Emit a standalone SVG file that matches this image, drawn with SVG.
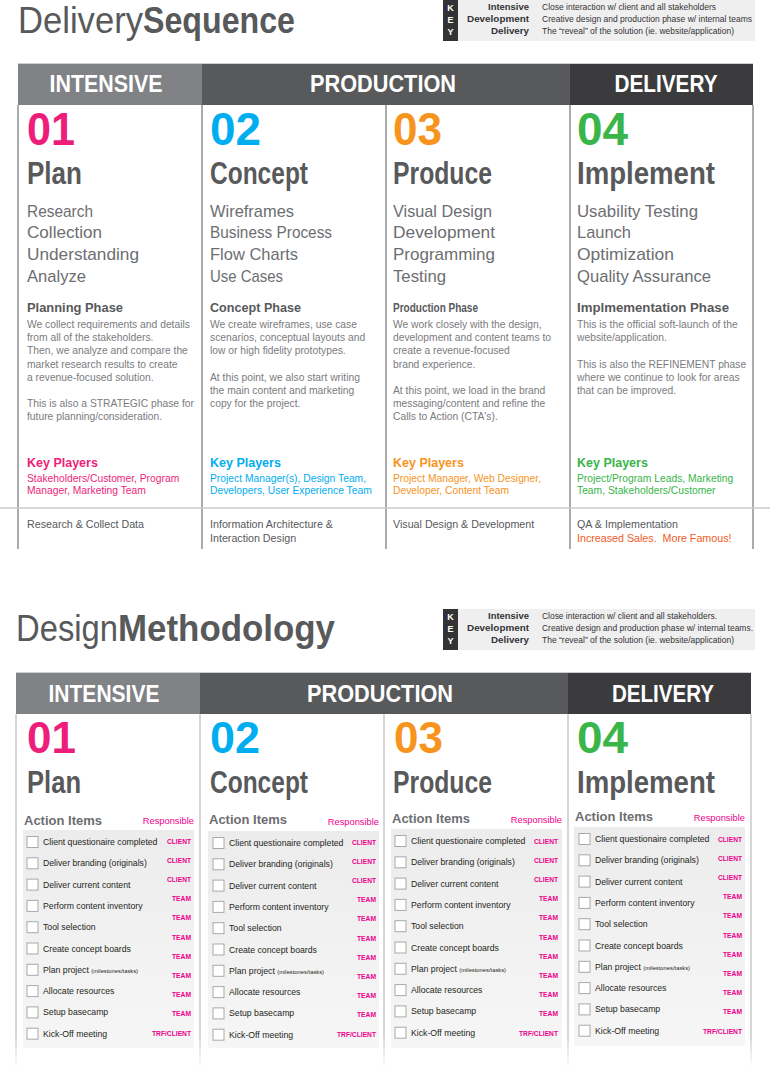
<svg xmlns="http://www.w3.org/2000/svg" width="770" height="1070" viewBox="0 0 770 1070">
  <style>
    text { font-family: "Liberation Sans", Arial, sans-serif; }
    .title { font-size: 36px; fill: #58595b; }
    .title-b { font-size: 36px; font-weight: bold; fill: #58595b; }
    .key-bg { fill: #efeff0; }
    .key-strip { fill: #333335; }
    .key-letter { font-size: 9px; font-weight: bold; fill: #ffffff; text-anchor: middle; }
    .key-label { font-size: 9px; font-weight: bold; fill: #333335; text-anchor: end; }
    .key-desc { font-size: 8.6px; fill: #333335; }
    .bar-line { stroke: #cfcfcf; stroke-width: 1; }
    .hdr { font-size: 23px; font-weight: bold; fill: #ffffff; text-anchor: middle; }
    .num { font-size: 46px; font-weight: bold; }
    .num2 { font-size: 44px; font-weight: bold; }
    .stage { font-size: 31px; font-weight: bold; fill: #58595b; }
    .stage2 { font-size: 32px; font-weight: bold; fill: #58595b; }
    .task { font-size: 17px; fill: #6d6e71; }
    .phase { font-size: 13px; font-weight: bold; fill: #58595b; }
    .body { font-size: 10.3px; fill: #7a7b7e; }
    .kp { font-size: 12.5px; font-weight: bold; }
    .kp-list { font-size: 10.3px; }
    .outcome { font-size: 10.7px; fill: #58595b; }
    .col-line { stroke: #8e8f92; stroke-width: 1.5; }
    .col-line2 { stroke: url(#fadeLine); stroke-width: 1.5; }
    .sep { stroke: #cbcbcb; stroke-width: 1.5; }
    .ai { font-size: 13px; font-weight: bold; fill: #6d6e71; }
    .resp { font-size: 9.3px; fill: #ec008c; text-anchor: end; }
    .panel { fill: url(#panelGrad); }
    .box { fill: #ffffff; stroke: #a7a9ac; stroke-width: 1; }
    .item { font-size: 8.7px; fill: #231f20; }
    .tiny { font-size: 5.8px; }
    .who { font-size: 7.2px; font-weight: bold; fill: #ec008c; text-anchor: end; }
    .pink { fill: #ed1e79; }
    .cyan { fill: #00aeef; }
    .orange { fill: #f7941d; }
    .green { fill: #39b54a; }
  </style>
  <defs>
    <linearGradient id="fadeLine" gradientUnits="userSpaceOnUse" x1="0" y1="1035" x2="0" y2="1068">
      <stop offset="0" stop-color="#c8c8c8" stop-opacity="1"/>
      <stop offset="1" stop-color="#c8c8c8" stop-opacity="0"/>
    </linearGradient>
    <linearGradient id="panelGrad" x1="0" y1="0" x2="0" y2="1">
      <stop offset="0" stop-color="#ececec"/>
      <stop offset="1" stop-color="#f6f6f6"/>
    </linearGradient>
  </defs>

  <!-- ===================== Delivery Sequence ===================== -->
  <g id="seq-title">
    <text class="title" x="18" y="33" textLength="125" lengthAdjust="spacingAndGlyphs">Delivery</text>
    <text class="title-b" x="143" y="33" textLength="152" lengthAdjust="spacingAndGlyphs">Sequence</text>
  </g>

  <g id="seq-key">
    <rect class="key-bg" x="443" y="0" width="312" height="41"/>
    <rect class="key-strip" x="443" y="0" width="15" height="41"/>
    <text class="key-letter" x="450.5" y="10.5">K</text>
    <text class="key-letter" x="450.5" y="22.5">E</text>
    <text class="key-letter" x="450.5" y="34.5">Y</text>
    <text class="key-label" x="529" y="10" textLength="41" lengthAdjust="spacingAndGlyphs">Intensive</text>
    <text class="key-label" x="529" y="22" textLength="62" lengthAdjust="spacingAndGlyphs">Development</text>
    <text class="key-label" x="529" y="34" textLength="38" lengthAdjust="spacingAndGlyphs">Delivery</text>
    <text class="key-desc" x="542" y="10" textLength="174" lengthAdjust="spacingAndGlyphs">Close interaction w/ client and all stakeholders</text>
    <text class="key-desc" x="542" y="22" textLength="210" lengthAdjust="spacingAndGlyphs">Creative design and production phase w/ internal teams</text>
    <text class="key-desc" x="542" y="34" textLength="192" lengthAdjust="spacingAndGlyphs">The “reveal” of the solution (ie. website/application)</text>
  </g>

  <g id="seq-header">
    <line class="bar-line" x1="18" y1="63.5" x2="753" y2="63.5"/>
    <rect x="18" y="64" width="184" height="41" fill="#808285"/>
    <rect x="202" y="64" width="368" height="41" fill="#58595b"/>
    <rect x="570" y="64" width="183" height="41" fill="#3b3b3d"/>
    <text class="hdr" x="106" y="92" textLength="113" lengthAdjust="spacingAndGlyphs">INTENSIVE</text>
    <text class="hdr" x="383" y="92" textLength="146" lengthAdjust="spacingAndGlyphs">PRODUCTION</text>
    <text class="hdr" x="666" y="92" textLength="103" lengthAdjust="spacingAndGlyphs">DELIVERY</text>
  </g>

  <g id="seq-grid">
    <line class="col-line" x1="18" y1="105" x2="18" y2="549"/>
    <line class="col-line" x1="202" y1="105" x2="202" y2="549"/>
    <line class="col-line" x1="386" y1="105" x2="386" y2="549"/>
    <line class="col-line" x1="570" y1="105" x2="570" y2="549"/>
    <line class="col-line" x1="753" y1="105" x2="753" y2="549"/>
    <line class="sep" x1="0" y1="508" x2="770" y2="508"/>
  </g>

  <g id="seq-plan">
    <text class="num pink" x="27" y="145" textLength="48" lengthAdjust="spacingAndGlyphs">01</text>
    <text class="stage" x="27" y="184" textLength="55" lengthAdjust="spacingAndGlyphs">Plan</text>
    <text class="task" x="27" y="217" textLength="66" lengthAdjust="spacingAndGlyphs">Research</text>
    <text class="task" x="27" y="238" textLength="75" lengthAdjust="spacingAndGlyphs">Collection</text>
    <text class="task" x="27" y="260" textLength="112" lengthAdjust="spacingAndGlyphs">Understanding</text>
    <text class="task" x="27" y="282" textLength="59" lengthAdjust="spacingAndGlyphs">Analyze</text>
    <text class="phase" x="27" y="312" textLength="96" lengthAdjust="spacingAndGlyphs">Planning Phase</text>
    <text class="body" x="27" y="328">We collect requirements and details</text>
    <text class="body" x="27" y="341">from all of the stakeholders.</text>
    <text class="body" x="27" y="354">Then, we analyze and compare the</text>
    <text class="body" x="27" y="368">market research results to create</text>
    <text class="body" x="27" y="381">a revenue-focused solution.</text>
    <text class="body" x="27" y="407">This is also a STRATEGIC phase for</text>
    <text class="body" x="27" y="420">future planning/consideration.</text>
    <text class="kp pink" x="27" y="467">Key Players</text>
    <text class="kp-list pink" x="27" y="482">Stakeholders/Customer, Program</text>
    <text class="kp-list pink" x="27" y="494">Manager, Marketing Team</text>
    <text class="outcome" x="27" y="528">Research &amp; Collect Data</text>
  </g>

  <g id="seq-concept">
    <text class="num cyan" x="210" y="145" textLength="51" lengthAdjust="spacingAndGlyphs">02</text>
    <text class="stage" x="210" y="184" textLength="98" lengthAdjust="spacingAndGlyphs">Concept</text>
    <text class="task" x="210" y="217" textLength="84" lengthAdjust="spacingAndGlyphs">Wireframes</text>
    <text class="task" x="210" y="238" textLength="122" lengthAdjust="spacingAndGlyphs">Business Process</text>
    <text class="task" x="210" y="260" textLength="88" lengthAdjust="spacingAndGlyphs">Flow Charts</text>
    <text class="task" x="210" y="282" textLength="73" lengthAdjust="spacingAndGlyphs">Use Cases</text>
    <text class="phase" x="210" y="312" textLength="91" lengthAdjust="spacingAndGlyphs">Concept Phase</text>
    <text class="body" x="210" y="328">We create wireframes, use case</text>
    <text class="body" x="210" y="341">scenarios, conceptual layouts and</text>
    <text class="body" x="210" y="354">low or high fidelity prototypes.</text>
    <text class="body" x="210" y="381">At this point, we also start writing</text>
    <text class="body" x="210" y="394">the main content and marketing</text>
    <text class="body" x="210" y="407">copy for the project.</text>
    <text class="kp cyan" x="210" y="467">Key Players</text>
    <text class="kp-list cyan" x="210" y="482">Project Manager(s), Design Team,</text>
    <text class="kp-list cyan" x="210" y="494">Developers, User Experience Team</text>
    <text class="outcome" x="210" y="528">Information Architecture &amp;</text>
    <text class="outcome" x="210" y="542">Interaction Design</text>
  </g>

  <g id="seq-produce">
    <text class="num orange" x="393" y="145" textLength="49" lengthAdjust="spacingAndGlyphs">03</text>
    <text class="stage" x="393" y="184" textLength="99" lengthAdjust="spacingAndGlyphs">Produce</text>
    <text class="task" x="393" y="217" textLength="99" lengthAdjust="spacingAndGlyphs">Visual Design</text>
    <text class="task" x="393" y="238" textLength="102" lengthAdjust="spacingAndGlyphs">Development</text>
    <text class="task" x="393" y="260" textLength="102" lengthAdjust="spacingAndGlyphs">Programming</text>
    <text class="task" x="393" y="282" textLength="53" lengthAdjust="spacingAndGlyphs">Testing</text>
    <text class="phase" x="393" y="312" textLength="85" lengthAdjust="spacingAndGlyphs">Production Phase</text>
    <text class="body" x="393" y="328">We work closely with the design,</text>
    <text class="body" x="393" y="341">development and content teams to</text>
    <text class="body" x="393" y="354">create a revenue-focused</text>
    <text class="body" x="393" y="368">brand experience.</text>
    <text class="body" x="393" y="394">At this point, we load in the brand</text>
    <text class="body" x="393" y="407">messaging/content and refine the</text>
    <text class="body" x="393" y="420">Calls to Action (CTA's).</text>
    <text class="kp orange" x="393" y="467">Key Players</text>
    <text class="kp-list orange" x="393" y="482">Project Manager, Web Designer,</text>
    <text class="kp-list orange" x="393" y="494">Developer, Content Team</text>
    <text class="outcome" x="393" y="528">Visual Design &amp; Development</text>
  </g>

  <g id="seq-implement">
    <text class="num green" x="577" y="145" textLength="51" lengthAdjust="spacingAndGlyphs">04</text>
    <text class="stage" x="577" y="184" textLength="138" lengthAdjust="spacingAndGlyphs">Implement</text>
    <text class="task" x="577" y="217" textLength="121" lengthAdjust="spacingAndGlyphs">Usability Testing</text>
    <text class="task" x="577" y="238" textLength="54" lengthAdjust="spacingAndGlyphs">Launch</text>
    <text class="task" x="577" y="260" textLength="97" lengthAdjust="spacingAndGlyphs">Optimization</text>
    <text class="task" x="577" y="282" textLength="134" lengthAdjust="spacingAndGlyphs">Quality Assurance</text>
    <text class="phase" x="577" y="312" textLength="152" lengthAdjust="spacingAndGlyphs">Implmementation Phase</text>
    <text class="body" x="577" y="328">This is the official soft-launch of the</text>
    <text class="body" x="577" y="341">website/application.</text>
    <text class="body" x="577" y="368">This is also the REFINEMENT phase</text>
    <text class="body" x="577" y="381">where we continue to look for areas</text>
    <text class="body" x="577" y="394">that can be improved.</text>
    <text class="kp green" x="577" y="467">Key Players</text>
    <text class="kp-list green" x="577" y="482">Project/Program Leads, Marketing</text>
    <text class="kp-list green" x="577" y="494">Team, Stakeholders/Customer</text>
    <text class="outcome" x="577" y="528">QA &amp; Implementation</text>
    <text class="outcome" x="577" y="542" fill="#f15a24" style="fill:#f15a24" xml:space="preserve">Increased Sales.  More Famous!</text>
  </g>

  <!-- ===================== Design Methodology ===================== -->
  <g id="method-title">
    <text class="title" x="16" y="641" textLength="102" lengthAdjust="spacingAndGlyphs">Design</text>
    <text class="title-b" x="118" y="641" textLength="217" lengthAdjust="spacingAndGlyphs">Methodology</text>
  </g>

  <g id="method-key">
    <rect class="key-bg" x="443" y="609" width="312" height="41"/>
    <rect class="key-strip" x="443" y="609" width="15" height="41"/>
    <text class="key-letter" x="450.5" y="619.5">K</text>
    <text class="key-letter" x="450.5" y="631.5">E</text>
    <text class="key-letter" x="450.5" y="643.5">Y</text>
    <text class="key-label" x="529" y="619" textLength="41" lengthAdjust="spacingAndGlyphs">Intensive</text>
    <text class="key-label" x="529" y="631" textLength="62" lengthAdjust="spacingAndGlyphs">Development</text>
    <text class="key-label" x="529" y="643" textLength="38" lengthAdjust="spacingAndGlyphs">Delivery</text>
    <text class="key-desc" x="542" y="619" textLength="175" lengthAdjust="spacingAndGlyphs">Close interaction w/ client and all stakeholders.</text>
    <text class="key-desc" x="542" y="631" textLength="211" lengthAdjust="spacingAndGlyphs">Creative design and production phase w/ internal teams.</text>
    <text class="key-desc" x="542" y="643" textLength="192" lengthAdjust="spacingAndGlyphs">The “reveal” of the solution (ie. website/application)</text>
  </g>

  <g id="method-header">
    <line class="bar-line" x1="16" y1="672.5" x2="751" y2="672.5"/>
    <rect x="16" y="673" width="184" height="41" fill="#808285"/>
    <rect x="200" y="673" width="368" height="41" fill="#58595b"/>
    <rect x="568" y="673" width="183" height="41" fill="#3b3b3d"/>
    <text class="hdr" x="104" y="701.5" textLength="111" lengthAdjust="spacingAndGlyphs">INTENSIVE</text>
    <text class="hdr" x="380" y="701.5" textLength="146" lengthAdjust="spacingAndGlyphs">PRODUCTION</text>
    <text class="hdr" x="663" y="701.5" textLength="102" lengthAdjust="spacingAndGlyphs">DELIVERY</text>
  </g>

  <g id="method-grid">
    <line class="col-line2" x1="16" y1="714" x2="16" y2="1068"/>
    <line class="col-line2" x1="200" y1="714" x2="200" y2="1068"/>
    <line class="col-line2" x1="384" y1="714" x2="384" y2="1068"/>
    <line class="col-line2" x1="568" y1="714" x2="568" y2="1068"/>
    <line class="col-line2" x1="751" y1="714" x2="751" y2="1068"/>
  </g>

  <g id="method-plan">
    <text class="num2 pink" x="27" y="753" textLength="49" lengthAdjust="spacingAndGlyphs">01</text>
    <text class="stage2" x="27" y="793" textLength="54" lengthAdjust="spacingAndGlyphs">Plan</text>
    <g transform="translate(23,830)">
      <text class="ai" x="1" y="-5">Action Items</text>
      <text class="resp" x="171" y="-6">Responsible</text>
      <rect class="panel" x="0" y="0" width="171" height="218"/>
      <rect class="box" x="4" y="6.5" width="11" height="11"/>
      <rect class="box" x="4" y="27.8" width="11" height="11"/>
      <rect class="box" x="4" y="49.1" width="11" height="11"/>
      <rect class="box" x="4" y="70.4" width="11" height="11"/>
      <rect class="box" x="4" y="91.7" width="11" height="11"/>
      <rect class="box" x="4" y="113" width="11" height="11"/>
      <rect class="box" x="4" y="134.3" width="11" height="11"/>
      <rect class="box" x="4" y="155.6" width="11" height="11"/>
      <rect class="box" x="4" y="176.9" width="11" height="11"/>
      <rect class="box" x="4" y="198.2" width="11" height="11"/>
      <text class="item" x="20" y="15">Client questionaire completed</text>
      <text class="item" x="20" y="36.3">Deliver branding (originals)</text>
      <text class="item" x="20" y="57.6">Deliver current content</text>
      <text class="item" x="20" y="78.9">Perform content inventory</text>
      <text class="item" x="20" y="100.2">Tool selection</text>
      <text class="item" x="20" y="121.5">Create concept boards</text>
      <text class="item" x="20" y="142.8">Plan project <tspan class="tiny">(milestones/tasks)</tspan></text>
      <text class="item" x="20" y="164.1">Allocate resources</text>
      <text class="item" x="20" y="185.4">Setup basecamp</text>
      <text class="item" x="20" y="206.7">Kick-Off meeting</text>
      <text class="who" x="168" y="13.6" textLength="24" lengthAdjust="spacingAndGlyphs">CLIENT</text>
      <text class="who" x="168" y="32.8" textLength="24" lengthAdjust="spacingAndGlyphs">CLIENT</text>
      <text class="who" x="168" y="52" textLength="24" lengthAdjust="spacingAndGlyphs">CLIENT</text>
      <text class="who" x="168" y="71.2" textLength="19" lengthAdjust="spacingAndGlyphs">TEAM</text>
      <text class="who" x="168" y="90.4" textLength="19" lengthAdjust="spacingAndGlyphs">TEAM</text>
      <text class="who" x="168" y="109.6" textLength="19" lengthAdjust="spacingAndGlyphs">TEAM</text>
      <text class="who" x="168" y="128.8" textLength="19" lengthAdjust="spacingAndGlyphs">TEAM</text>
      <text class="who" x="168" y="148" textLength="19" lengthAdjust="spacingAndGlyphs">TEAM</text>
      <text class="who" x="168" y="167.2" textLength="19" lengthAdjust="spacingAndGlyphs">TEAM</text>
      <text class="who" x="168" y="186.4" textLength="19" lengthAdjust="spacingAndGlyphs">TEAM</text>
      <text class="who" x="168" y="205.6" textLength="39" lengthAdjust="spacingAndGlyphs">TRF/CLIENT</text>
    </g>
  </g>

  <g id="method-concept">
    <text class="num2 cyan" x="210" y="753" textLength="50" lengthAdjust="spacingAndGlyphs">02</text>
    <text class="stage2" x="210" y="793" textLength="98" lengthAdjust="spacingAndGlyphs">Concept</text>
    <g transform="translate(208,831)">
      <text class="ai" x="1" y="-7">Action Items</text>
      <text class="resp" x="171" y="-6">Responsible</text>
      <rect class="panel" x="0" y="0" width="171" height="217"/>
      <rect class="box" x="5" y="6.5" width="11" height="11"/>
      <rect class="box" x="5" y="27.8" width="11" height="11"/>
      <rect class="box" x="5" y="49.1" width="11" height="11"/>
      <rect class="box" x="5" y="70.4" width="11" height="11"/>
      <rect class="box" x="5" y="91.7" width="11" height="11"/>
      <rect class="box" x="5" y="113" width="11" height="11"/>
      <rect class="box" x="5" y="134.3" width="11" height="11"/>
      <rect class="box" x="5" y="155.6" width="11" height="11"/>
      <rect class="box" x="5" y="176.9" width="11" height="11"/>
      <rect class="box" x="5" y="198.2" width="11" height="11"/>
      <text class="item" x="21" y="15">Client questionaire completed</text>
      <text class="item" x="21" y="36.3">Deliver branding (originals)</text>
      <text class="item" x="21" y="57.6">Deliver current content</text>
      <text class="item" x="21" y="78.9">Perform content inventory</text>
      <text class="item" x="21" y="100.2">Tool selection</text>
      <text class="item" x="21" y="121.5">Create concept boards</text>
      <text class="item" x="21" y="142.8">Plan project <tspan class="tiny">(milestones/tasks)</tspan></text>
      <text class="item" x="21" y="164.1">Allocate resources</text>
      <text class="item" x="21" y="185.4">Setup basecamp</text>
      <text class="item" x="21" y="206.7">Kick-Off meeting</text>
      <text class="who" x="168" y="13.6" textLength="24" lengthAdjust="spacingAndGlyphs">CLIENT</text>
      <text class="who" x="168" y="32.8" textLength="24" lengthAdjust="spacingAndGlyphs">CLIENT</text>
      <text class="who" x="168" y="52" textLength="24" lengthAdjust="spacingAndGlyphs">CLIENT</text>
      <text class="who" x="168" y="71.2" textLength="19" lengthAdjust="spacingAndGlyphs">TEAM</text>
      <text class="who" x="168" y="90.4" textLength="19" lengthAdjust="spacingAndGlyphs">TEAM</text>
      <text class="who" x="168" y="109.6" textLength="19" lengthAdjust="spacingAndGlyphs">TEAM</text>
      <text class="who" x="168" y="128.8" textLength="19" lengthAdjust="spacingAndGlyphs">TEAM</text>
      <text class="who" x="168" y="148" textLength="19" lengthAdjust="spacingAndGlyphs">TEAM</text>
      <text class="who" x="168" y="167.2" textLength="19" lengthAdjust="spacingAndGlyphs">TEAM</text>
      <text class="who" x="168" y="186.4" textLength="19" lengthAdjust="spacingAndGlyphs">TEAM</text>
      <text class="who" x="168" y="205.6" textLength="39" lengthAdjust="spacingAndGlyphs">TRF/CLIENT</text>
    </g>
  </g>

  <g id="method-produce">
    <text class="num2 orange" x="394" y="753" textLength="49" lengthAdjust="spacingAndGlyphs">03</text>
    <text class="stage2" x="393" y="793" textLength="99" lengthAdjust="spacingAndGlyphs">Produce</text>
    <g transform="translate(391,829)">
      <text class="ai" x="1" y="-6">Action Items</text>
      <text class="resp" x="171" y="-6">Responsible</text>
      <rect class="panel" x="0" y="0" width="171" height="219"/>
      <rect class="box" x="4" y="6.5" width="11" height="11"/>
      <rect class="box" x="4" y="27.8" width="11" height="11"/>
      <rect class="box" x="4" y="49.1" width="11" height="11"/>
      <rect class="box" x="4" y="70.4" width="11" height="11"/>
      <rect class="box" x="4" y="91.7" width="11" height="11"/>
      <rect class="box" x="4" y="113" width="11" height="11"/>
      <rect class="box" x="4" y="134.3" width="11" height="11"/>
      <rect class="box" x="4" y="155.6" width="11" height="11"/>
      <rect class="box" x="4" y="176.9" width="11" height="11"/>
      <rect class="box" x="4" y="198.2" width="11" height="11"/>
      <text class="item" x="20" y="15">Client questionaire completed</text>
      <text class="item" x="20" y="36.3">Deliver branding (originals)</text>
      <text class="item" x="20" y="57.6">Deliver current content</text>
      <text class="item" x="20" y="78.9">Perform content inventory</text>
      <text class="item" x="20" y="100.2">Tool selection</text>
      <text class="item" x="20" y="121.5">Create concept boards</text>
      <text class="item" x="20" y="142.8">Plan project <tspan class="tiny">(milestones/tasks)</tspan></text>
      <text class="item" x="20" y="164.1">Allocate resources</text>
      <text class="item" x="20" y="185.4">Setup basecamp</text>
      <text class="item" x="20" y="206.7">Kick-Off meeting</text>
      <text class="who" x="167" y="14.6" textLength="24" lengthAdjust="spacingAndGlyphs">CLIENT</text>
      <text class="who" x="167" y="33.8" textLength="24" lengthAdjust="spacingAndGlyphs">CLIENT</text>
      <text class="who" x="167" y="53" textLength="24" lengthAdjust="spacingAndGlyphs">CLIENT</text>
      <text class="who" x="167" y="72.2" textLength="19" lengthAdjust="spacingAndGlyphs">TEAM</text>
      <text class="who" x="167" y="91.4" textLength="19" lengthAdjust="spacingAndGlyphs">TEAM</text>
      <text class="who" x="167" y="110.6" textLength="19" lengthAdjust="spacingAndGlyphs">TEAM</text>
      <text class="who" x="167" y="129.8" textLength="19" lengthAdjust="spacingAndGlyphs">TEAM</text>
      <text class="who" x="167" y="149" textLength="19" lengthAdjust="spacingAndGlyphs">TEAM</text>
      <text class="who" x="167" y="168.2" textLength="19" lengthAdjust="spacingAndGlyphs">TEAM</text>
      <text class="who" x="167" y="187.4" textLength="19" lengthAdjust="spacingAndGlyphs">TEAM</text>
      <text class="who" x="167" y="206.6" textLength="39" lengthAdjust="spacingAndGlyphs">TRF/CLIENT</text>
    </g>
  </g>

  <g id="method-implement">
    <text class="num2 green" x="577" y="753" textLength="51" lengthAdjust="spacingAndGlyphs">04</text>
    <text class="stage2" x="577" y="793" textLength="138" lengthAdjust="spacingAndGlyphs">Implement</text>
    <g transform="translate(574,827)">
      <text class="ai" x="1" y="-6">Action Items</text>
      <text class="resp" x="171" y="-6">Responsible</text>
      <rect class="panel" x="0" y="0" width="171" height="219"/>
      <rect class="box" x="5" y="6.5" width="11" height="11"/>
      <rect class="box" x="5" y="27.8" width="11" height="11"/>
      <rect class="box" x="5" y="49.1" width="11" height="11"/>
      <rect class="box" x="5" y="70.4" width="11" height="11"/>
      <rect class="box" x="5" y="91.7" width="11" height="11"/>
      <rect class="box" x="5" y="113" width="11" height="11"/>
      <rect class="box" x="5" y="134.3" width="11" height="11"/>
      <rect class="box" x="5" y="155.6" width="11" height="11"/>
      <rect class="box" x="5" y="176.9" width="11" height="11"/>
      <rect class="box" x="5" y="198.2" width="11" height="11"/>
      <text class="item" x="21" y="15">Client questionaire completed</text>
      <text class="item" x="21" y="36.3">Deliver branding (originals)</text>
      <text class="item" x="21" y="57.6">Deliver current content</text>
      <text class="item" x="21" y="78.9">Perform content inventory</text>
      <text class="item" x="21" y="100.2">Tool selection</text>
      <text class="item" x="21" y="121.5">Create concept boards</text>
      <text class="item" x="21" y="142.8">Plan project <tspan class="tiny">(milestones/tasks)</tspan></text>
      <text class="item" x="21" y="164.1">Allocate resources</text>
      <text class="item" x="21" y="185.4">Setup basecamp</text>
      <text class="item" x="21" y="206.7">Kick-Off meeting</text>
      <text class="who" x="168" y="14.6" textLength="24" lengthAdjust="spacingAndGlyphs">CLIENT</text>
      <text class="who" x="168" y="33.8" textLength="24" lengthAdjust="spacingAndGlyphs">CLIENT</text>
      <text class="who" x="168" y="53" textLength="24" lengthAdjust="spacingAndGlyphs">CLIENT</text>
      <text class="who" x="168" y="72.2" textLength="19" lengthAdjust="spacingAndGlyphs">TEAM</text>
      <text class="who" x="168" y="91.4" textLength="19" lengthAdjust="spacingAndGlyphs">TEAM</text>
      <text class="who" x="168" y="110.6" textLength="19" lengthAdjust="spacingAndGlyphs">TEAM</text>
      <text class="who" x="168" y="129.8" textLength="19" lengthAdjust="spacingAndGlyphs">TEAM</text>
      <text class="who" x="168" y="149" textLength="19" lengthAdjust="spacingAndGlyphs">TEAM</text>
      <text class="who" x="168" y="168.2" textLength="19" lengthAdjust="spacingAndGlyphs">TEAM</text>
      <text class="who" x="168" y="187.4" textLength="19" lengthAdjust="spacingAndGlyphs">TEAM</text>
      <text class="who" x="168" y="206.6" textLength="39" lengthAdjust="spacingAndGlyphs">TRF/CLIENT</text>
    </g>
  </g>
</svg>
